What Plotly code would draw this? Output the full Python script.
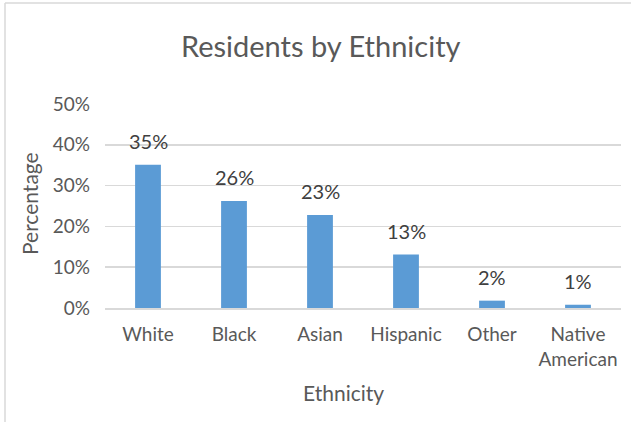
import plotly.graph_objects as go

categories = ["White", "Black", "Asian", "Hispanic", "Other", "Native<br>American"]
values = [0.351, 0.262, 0.228, 0.131, 0.018, 0.008]
y_ticks = [0, 0.1, 0.2, 0.3, 0.4, 0.5]
y_tick_labels = ["0%", "10%", "20%", "30%", "40%", "50%"]

FONT = "Lato"
W, H = 631, 422
L, R, T, B = 105, 621, 104, 308

fig = go.Figure(go.Bar(
    x=categories, y=values,
    marker=dict(color="#5B9BD5", line=dict(width=0)),
    width=0.3,
    hoverinfo="skip",
))

def px(x):
    return (x - L) / (R - L)

def py(y):
    return (B - y) / (B - T)

data_labels = [
    dict(x=c, y=v, xref="x", yref="y", text=f"{round(v * 100):d}%", showarrow=False,
         yanchor="bottom", xanchor="center", yshift=10,
         font=dict(family=FONT, size=20, color="#404040"))
    for c, v in zip(categories, values)
]

fig.update_layout(
    width=W, height=H,
    margin=dict(l=L, r=W - R, t=T, b=H - B),
    paper_bgcolor="white", plot_bgcolor="white",
    showlegend=False,
    bargap=0.7,
    xaxis=dict(showgrid=False, showline=True, linecolor="#D9D9D9", linewidth=1.5,
               ticks="", tickfont=dict(family=FONT, size=19, color="#595959"),
               ticklabelstandoff=9, fixedrange=True),
    yaxis=dict(range=[0, 0.5], tickvals=y_ticks, ticktext=y_tick_labels,
               showgrid=True, gridcolor="#D9D9D9", gridwidth=1.5,
               zeroline=False, showline=False, ticks="",
               tickfont=dict(family=FONT, size=19, color="#595959"),
               ticklabelstandoff=14, fixedrange=True),
    annotations=data_labels + [
        dict(text="Residents by Ethnicity", x=px(321), y=py(46), xref="paper", yref="paper",
             showarrow=False, font=dict(family=FONT, size=29, color="#595959"),
             xanchor="center", yanchor="middle"),
        dict(text="Ethnicity", x=px(343), y=py(392), xref="paper", yref="paper",
             showarrow=False, font=dict(family=FONT, size=21, color="#595959"),
             xanchor="center", yanchor="middle"),
        dict(text="Percentage", x=px(29), y=py(204), xref="paper", yref="paper",
             showarrow=False, textangle=-90, font=dict(family=FONT, size=21, color="#595959"),
             xanchor="center", yanchor="middle"),
    ],
    shapes=[
        dict(type="line", xref="paper", yref="paper", x0=px(5), x1=px(5), y0=py(3), y1=py(430),
             line=dict(color="#D9D9D9", width=1.5)),
        dict(type="line", xref="paper", yref="paper", x0=px(5), x1=px(640), y0=py(3), y1=py(3),
             line=dict(color="#D9D9D9", width=1.5)),
    ],
)

fig.write_html("out.html", config={"displayModeBar": False, "staticPlot": True},
               post_script="document.body.style.margin='0';")
